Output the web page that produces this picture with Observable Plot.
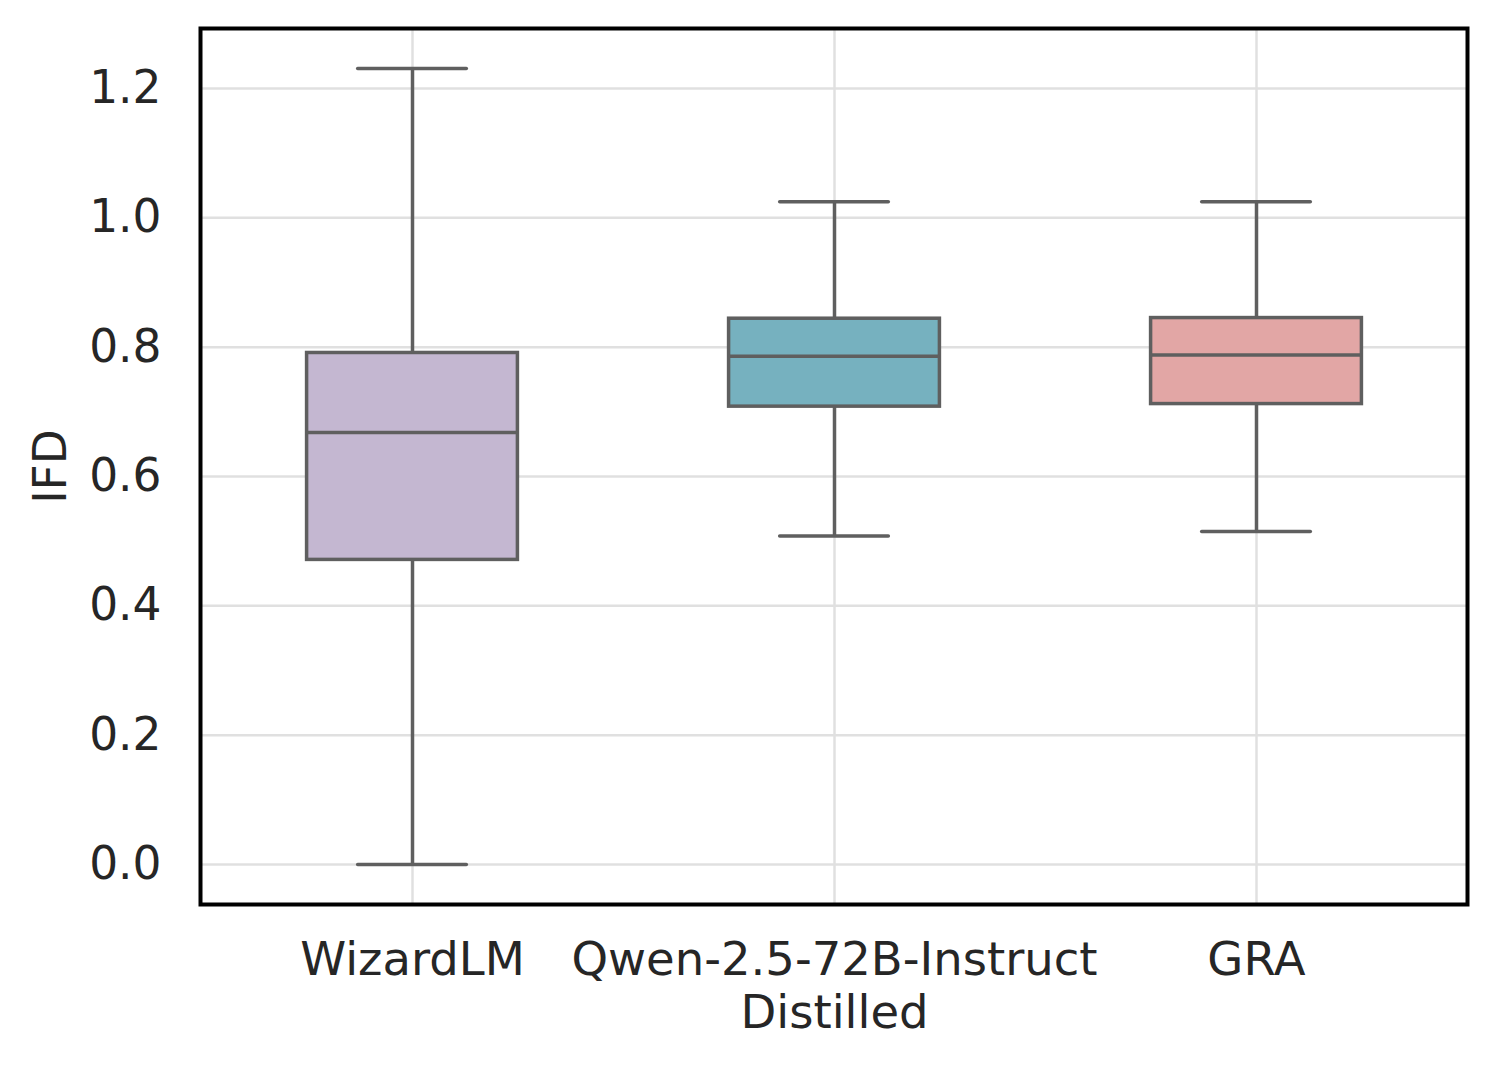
<!DOCTYPE html>
<html>
<head>
<meta charset="utf-8">
<script src="https://cdn.jsdelivr.net/npm/d3@7"></script>
<script src="https://cdn.jsdelivr.net/npm/@observablehq/plot@0.6"></script>
<style>
  html, body { margin: 0; padding: 0; background: #fff; }
  #chart svg { display: block; }
</style>
</head>
<body>
<div id="chart"></div>
<script>
const categories = ["WizardLM", "Qwen-2.5-72B-Instruct\nDistilled", "GRA"];
const whiskerLow  = [0.0,   0.508, 0.515];
const q1          = [0.471, 0.708, 0.712];
const median      = [0.668, 0.786, 0.788];
const q3          = [0.791, 0.844, 0.845];
const whiskerHigh = [1.231, 1.025, 1.025];
const colors      = ["#c4b7d1", "#76b1bf", "#e2a6a5"];
const yTicks      = [0, 0.2, 0.4, 0.6, 0.8, 1.0, 1.2];

const data = categories.map((c, i) => ({
  cat: c, lo: whiskerLow[i], q1: q1[i], med: median[i], q3: q3[i], hi: whiskerHigh[i], color: colors[i]
}));

const W = 1495, H = 1068;
const mL = 200, mR = 28, mT = 28, mB = 164;
const band = (W - mL - mR) / categories.length;
const boxInset = band * 0.25;
const capInset = (band - 109) / 2;
const edge = "#5f5f5f";

const chart = Plot.plot({
  width: W,
  height: H,
  marginLeft: mL,
  marginRight: mR,
  marginTop: mT,
  marginBottom: mB,
  style: { fontFamily: "DejaVu Sans", fontSize: "46.5px", color: "#262626", background: "#fff" },
  x: { type: "band", domain: categories, padding: 0 },
  y: { domain: [-0.0619, 1.2928] },
  marks: [
    Plot.gridY(yTicks, { stroke: "#e0e0e0", strokeOpacity: 1, strokeWidth: 2.5 }),
    Plot.gridX(categories, { stroke: "#e0e0e0", strokeOpacity: 1, strokeWidth: 2.5 }),
    Plot.ruleX(data, { x: "cat", y1: "lo", y2: "hi", stroke: edge, strokeWidth: 3.5 }),
    Plot.tickY(data, { x: "cat", y: "lo", stroke: edge, strokeWidth: 3.5, strokeLinecap: "round", insetLeft: capInset, insetRight: capInset }),
    Plot.tickY(data, { x: "cat", y: "hi", stroke: edge, strokeWidth: 3.5, strokeLinecap: "round", insetLeft: capInset, insetRight: capInset }),
    Plot.barY(data, { x: "cat", y1: "q1", y2: "q3", fill: "color", stroke: edge, strokeWidth: 3.5, insetLeft: boxInset, insetRight: boxInset }),
    Plot.tickY(data, { x: "cat", y: "med", stroke: edge, strokeWidth: 3.5, insetLeft: boxInset, insetRight: boxInset }),
    Plot.axisY(yTicks, { tickSize: 0, tickPadding: 39, fontSize: 45.5, tickFormat: d3.format(".1f"), label: "IFD", labelAnchor: "center", labelArrow: "none", labelOffset: 167, fill: "#262626" }),
    Plot.axisX({ tickSize: 0, tickPadding: 34, label: null, lineHeight: 1.12, fill: "#262626" }),
    Plot.frame({ stroke: "black", strokeWidth: 4 })
  ]
});

document.getElementById("chart").appendChild(chart);
</script>
</body>
</html>
